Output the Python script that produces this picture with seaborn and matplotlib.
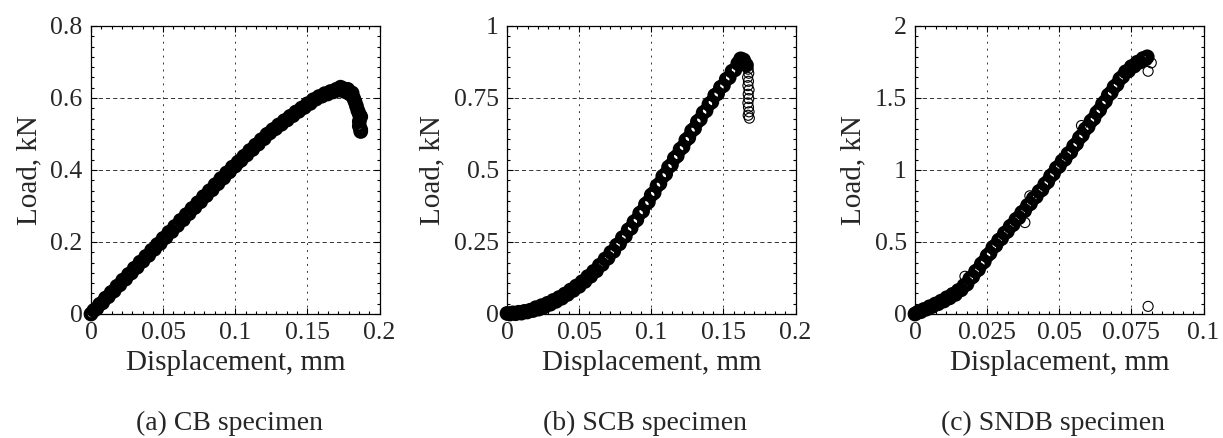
import matplotlib
matplotlib.use('Agg')
import matplotlib.pyplot as plt
import seaborn as sns
from matplotlib.ticker import AutoMinorLocator, FuncFormatter

# (a) CB specimen - load vs displacement
cb_disp = [0.000, 0.002, 0.004, 0.006, 0.008, 0.010, 0.012, 0.014, 0.016, 0.018,
           0.020, 0.022, 0.024, 0.026, 0.028, 0.030, 0.032, 0.034, 0.036, 0.038,
           0.040, 0.042, 0.044, 0.046, 0.048, 0.050, 0.052, 0.054, 0.056, 0.058,
           0.060, 0.062, 0.064, 0.066, 0.068, 0.070, 0.072, 0.074, 0.076, 0.078,
           0.080, 0.082, 0.084, 0.086, 0.088, 0.090, 0.092, 0.094, 0.096, 0.098,
           0.100, 0.102, 0.104, 0.106, 0.108, 0.110, 0.112, 0.114, 0.116, 0.118,
           0.120, 0.122, 0.124, 0.126, 0.128, 0.130, 0.132, 0.134, 0.136, 0.138,
           0.140, 0.142, 0.144, 0.146, 0.148, 0.150, 0.152, 0.154, 0.156, 0.158,
           0.160, 0.162, 0.164, 0.166, 0.168, 0.170, 0.172, 0.173, 0.175, 0.176,
           0.178, 0.179, 0.181, 0.182, 0.183, 0.184, 0.185, 0.186, 0.187, 0.186,
           0.186, 0.187, 0.187]
cb_load = [0.000, 0.010, 0.015, 0.027, 0.031, 0.044, 0.048, 0.060, 0.064, 0.077,
           0.081, 0.094, 0.097, 0.110, 0.114, 0.127, 0.130, 0.144, 0.147, 0.160,
           0.163, 0.177, 0.180, 0.193, 0.196, 0.210, 0.213, 0.227, 0.229, 0.243,
           0.246, 0.260, 0.262, 0.276, 0.279, 0.293, 0.296, 0.309, 0.312, 0.326,
           0.329, 0.342, 0.345, 0.359, 0.362, 0.376, 0.378, 0.392, 0.395, 0.408,
           0.411, 0.422, 0.427, 0.438, 0.442, 0.454, 0.457, 0.469, 0.472, 0.484,
           0.487, 0.499, 0.503, 0.512, 0.515, 0.525, 0.527, 0.537, 0.539, 0.549,
           0.551, 0.561, 0.563, 0.572, 0.574, 0.584, 0.585, 0.595, 0.597, 0.604,
           0.605, 0.612, 0.611, 0.618, 0.617, 0.624, 0.622, 0.630, 0.626, 0.618,
           0.624, 0.612, 0.614, 0.600, 0.590, 0.578, 0.565, 0.555, 0.548, 0.535,
           0.522, 0.512, 0.507]
cb_tail_disp = []
cb_tail_load = []

# (b) SCB specimen
scb_disp = [0.000, 0.002, 0.004, 0.006, 0.008, 0.010, 0.012, 0.014, 0.016, 0.018,
            0.020, 0.022, 0.024, 0.026, 0.028, 0.030, 0.032, 0.034, 0.036, 0.038,
            0.040, 0.042, 0.044, 0.046, 0.048, 0.050, 0.052, 0.054, 0.056, 0.058,
            0.060, 0.062, 0.064, 0.066, 0.068, 0.070, 0.072, 0.074, 0.076, 0.078,
            0.080, 0.082, 0.084, 0.086, 0.088, 0.090, 0.092, 0.094, 0.096, 0.098,
            0.100, 0.102, 0.104, 0.106, 0.108, 0.110, 0.112, 0.114, 0.116, 0.118,
            0.120, 0.122, 0.124, 0.126, 0.128, 0.130, 0.132, 0.134, 0.136, 0.138,
            0.140, 0.142, 0.144, 0.146, 0.148, 0.150, 0.152, 0.154, 0.156, 0.158,
            0.160, 0.161, 0.162, 0.163, 0.164, 0.165, 0.166]
scb_load = [0.002, 0.000, 0.004, 0.001, 0.006, 0.003, 0.009, 0.007, 0.013, 0.012,
            0.022, 0.017, 0.029, 0.025, 0.037, 0.034, 0.047, 0.044, 0.057, 0.055,
            0.069, 0.068, 0.083, 0.082, 0.097, 0.096, 0.112, 0.113, 0.130, 0.131,
            0.148, 0.150, 0.169, 0.172, 0.191, 0.194, 0.214, 0.218, 0.239, 0.244,
            0.265, 0.270, 0.292, 0.298, 0.320, 0.327, 0.350, 0.357, 0.381, 0.389,
            0.413, 0.421, 0.445, 0.453, 0.478, 0.486, 0.510, 0.518, 0.541, 0.549,
            0.572, 0.580, 0.604, 0.612, 0.636, 0.644, 0.668, 0.676, 0.699, 0.706,
            0.729, 0.736, 0.759, 0.765, 0.787, 0.793, 0.815, 0.821, 0.843, 0.848,
            0.870, 0.873, 0.886, 0.881, 0.882, 0.870, 0.864]
scb_tail_disp = [0.1672, 0.1676, 0.1668, 0.1674, 0.1670, 0.1678, 0.1672, 0.1676,
                 0.1670, 0.1674, 0.1678, 0.1672, 0.1680]
scb_tail_load = [0.850, 0.836, 0.822, 0.808, 0.793, 0.778, 0.763, 0.748,
                 0.733, 0.718, 0.702, 0.690, 0.680]

# (c) SNDB specimen
sndb_disp = [0.000, 0.001, 0.002, 0.003, 0.004, 0.005, 0.006, 0.007, 0.008, 0.009,
             0.010, 0.011, 0.012, 0.013, 0.014, 0.015, 0.016, 0.017, 0.018, 0.019,
             0.020, 0.021, 0.022, 0.023, 0.024, 0.025, 0.026, 0.027, 0.028, 0.029,
             0.030, 0.031, 0.032, 0.033, 0.034, 0.035, 0.036, 0.037, 0.038, 0.039,
             0.040, 0.041, 0.042, 0.043, 0.044, 0.045, 0.046, 0.047, 0.048, 0.049,
             0.050, 0.051, 0.052, 0.053, 0.054, 0.055, 0.056, 0.057, 0.058, 0.059,
             0.060, 0.061, 0.062, 0.063, 0.064, 0.065, 0.066, 0.067, 0.068, 0.069,
             0.070, 0.071, 0.072, 0.073, 0.074, 0.075, 0.076, 0.077, 0.078, 0.079,
             0.080, 0.0805]
sndb_load = [0.000, 0.012, 0.016, 0.031, 0.034, 0.050, 0.052, 0.069, 0.071, 0.089,
             0.090, 0.113, 0.112, 0.136, 0.136, 0.163, 0.168, 0.198, 0.207, 0.246,
             0.259, 0.296, 0.309, 0.348, 0.364, 0.405, 0.422, 0.463, 0.476, 0.512,
             0.524, 0.561, 0.573, 0.609, 0.621, 0.657, 0.669, 0.705, 0.717, 0.754,
             0.766, 0.803, 0.815, 0.851, 0.863, 0.902, 0.918, 0.958, 0.974, 1.013,
             1.026, 1.063, 1.075, 1.112, 1.125, 1.166, 1.183, 1.224, 1.242, 1.283,
             1.300, 1.340, 1.357, 1.398, 1.417, 1.459, 1.478, 1.520, 1.537, 1.577,
             1.593, 1.633, 1.649, 1.682, 1.688, 1.718, 1.722, 1.748, 1.750, 1.774,
             1.772, 1.786]
sndb_tail_disp = [0.0819, 0.0808, 0.0808, 0.0173, 0.0381, 0.0398, 0.0577, -0.0004]
sndb_tail_load = [1.744, 1.686, 0.053, 0.262, 0.635, 0.821, 1.309, 0.006]

x_ticks = [[0, 0.05, 0.1, 0.15, 0.2], [0, 0.05, 0.1, 0.15, 0.2], [0, 0.025, 0.05, 0.075, 0.1]]
y_ticks = [[0, 0.2, 0.4, 0.6, 0.8], [0, 0.25, 0.5, 0.75, 1], [0, 0.5, 1, 1.5, 2]]
captions = ['(a) CB specimen', '(b) SCB specimen', '(c) SNDB specimen']

sns.set_style('ticks')
plt.rcParams['font.family'] = ['Liberation Serif', 'DejaVu Serif']
plt.rcParams['lines.scale_dashes'] = False

W, H = 1223, 438
fig = plt.figure(figsize=(W / 100, H / 100), dpi=100)

lefts = [91, 507, 915]
series = [(cb_disp, cb_load, cb_tail_disp, cb_tail_load),
          (scb_disp, scb_load, scb_tail_disp, scb_tail_load),
          (sndb_disp, sndb_load, sndb_tail_disp, sndb_tail_load)]

fmt = FuncFormatter(lambda v, p: '%g' % v)

for i in range(3):
    ax = fig.add_axes([lefts[i] / W, (H - 314) / H, 288.5 / W, 288 / H])
    d, l, td, tl = series[i]
    # dense logged points: heavy ring edges so the overlapping circles read as a solid band
    sns.scatterplot(x=d, y=l, ax=ax, marker='o', s=58, facecolor='none',
                    edgecolor='black', linewidth=3.0, clip_on=False, zorder=3)
    if len(td):
        sns.scatterplot(x=td, y=tl, ax=ax, marker='o', s=52, facecolor='none',
                        edgecolor='black', linewidth=0.8, clip_on=False, zorder=3)
    ax.set_xlim(x_ticks[i][0], x_ticks[i][-1])
    ax.set_ylim(y_ticks[i][0], y_ticks[i][-1])
    ax.set_xticks(x_ticks[i])
    ax.set_yticks(y_ticks[i])
    ax.xaxis.set_major_formatter(fmt)
    ax.yaxis.set_major_formatter(fmt)
    ax.xaxis.set_minor_locator(AutoMinorLocator(7))
    ax.yaxis.set_minor_locator(AutoMinorLocator(7))
    ax.tick_params(which='both', direction='in', top=True, right=True,
                   color='black', width=0.8)
    ax.tick_params(which='major', length=4, labelsize=18.5, pad=6)
    ax.tick_params(which='minor', length=2.5)
    ax.yaxis.grid(True, linestyle=(0, (3, 2.2)), color='0.2', linewidth=0.7)
    ax.xaxis.grid(True, linestyle=(0, (1.4, 3.6)), color='0.2', linewidth=0.7)
    for sp in ax.spines.values():
        sp.set_color('black')
        sp.set_linewidth(0.9)
    ax.set_xlabel('Displacement, mm', fontsize=21, labelpad=4)
    ax.set_ylabel('Load, kN', fontsize=21, labelpad=6)
    cx = (lefts[i] + 144 - 6) / W
    fig.text(cx, (H - 423) / H, captions[i], fontsize=20, ha='center', va='center')

fig.savefig('out.png', dpi=100)
